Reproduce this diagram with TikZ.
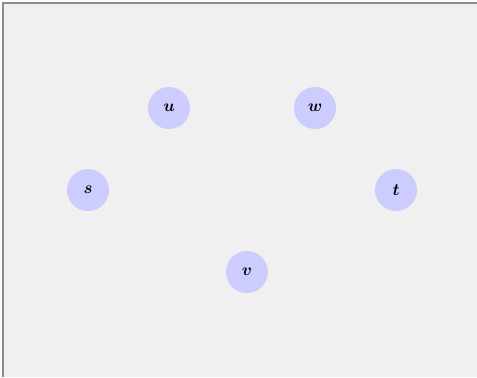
\documentclass[tikz,border=0pt]{standalone}
\usepackage{tikz}
\usetikzlibrary{positioning}
\usepackage{amsmath, bm}
\usepackage{xcolor}
\definecolor{nodeblue}{HTML}{CCCCFF}
\definecolor{bggray}{HTML}{F0F0F0}
\definecolor{framegray}{HTML}{8C8C8C}

\begin{document}
\begin{tikzpicture}[
      x=0.025cm, y=-0.025cm,
      every node/.style={font=\large},
      vertex/.style={circle, fill=nodeblue, minimum size=1.05cm, inner sep=0pt},
    ]
    \useasboundingbox (0,0) rectangle (477,377);
    \fill[bggray] (3,3) rectangle (477,377);
    \draw[framegray, line width=1.4pt] (3,377) -- (3,3) -- (477,3);

    \node[vertex] (u) at (169,108) {$\bm{u}$};
    \node[vertex] (w) at (315,108) {$\bm{w}$};
    \node[vertex] (s) at (88,190) {$\bm{s}$};
    \node[vertex] (t) at (396,190) {$\bm{t}$};
    \node[vertex] (v) at (247,272) {$\bm{v}$};
  \end{tikzpicture}
\end{document}
